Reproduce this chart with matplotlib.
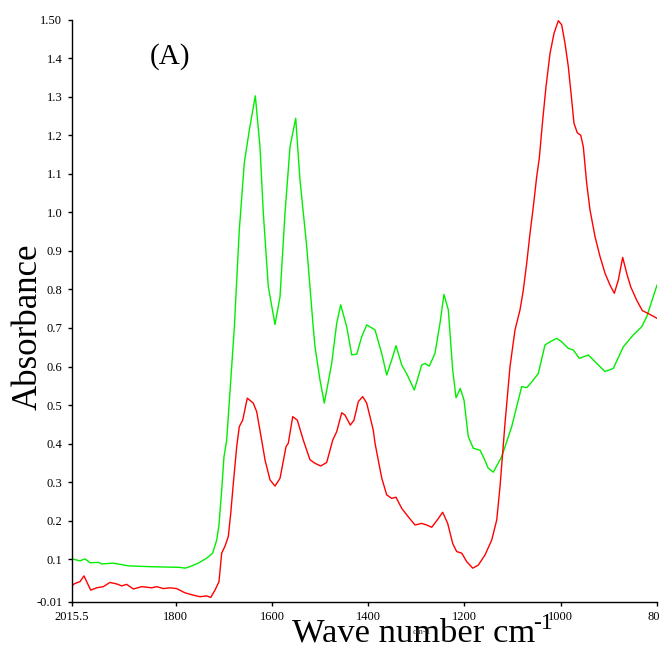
import matplotlib
matplotlib.use("Agg")
import matplotlib.pyplot as plt

plt.rcParams["font.family"] = ["Liberation Serif", "DejaVu Serif"]

# Spectrum 1 (green)
green_wn = [2015.5, 1998.9, 1988.5, 1978.1, 1960.9, 1953.8, 1929.7, 1898.5, 1857.0, 1791.1,
            1780.7, 1770.3, 1753.1, 1735.6, 1723.2, 1714.8, 1710.1, 1704.5, 1699.7, 1694.1,
            1678.3, 1667.9, 1657.5, 1647.1, 1634.6, 1624.9, 1618.0, 1607.6, 1593.7, 1583.3,
            1572.9, 1562.5, 1550.7, 1541.8, 1527.8, 1514.1, 1510.6, 1500.2, 1491.3, 1475.9,
            1465.5, 1457.2, 1444.7, 1434.3, 1423.9, 1413.6, 1403.2, 1385.9, 1372.0, 1361.6,
            1351.2, 1342.3, 1330.4, 1318.8, 1304.3, 1288.9, 1282.0, 1273.1, 1261.3, 1250.9,
            1242.6, 1233.6, 1224.5, 1217.6, 1208.7, 1201.0, 1192.1, 1181.7, 1167.7, 1160.9,
            1150.5, 1140.1, 1122.7, 1101.9, 1091.5, 1081.1, 1070.7, 1057.0, 1046.6, 1032.7,
            1022.3, 1008.4, 998.0, 984.3, 973.9, 961.4, 942.7, 925.3, 908.0, 890.8,
            870.0, 849.2, 831.8, 821.4, 800.0]
green_abs = [0.101, 0.096, 0.101, 0.091, 0.092, 0.088, 0.090, 0.083, 0.081, 0.079,
             0.077, 0.081, 0.090, 0.103, 0.116, 0.150, 0.189, 0.280, 0.366, 0.409,
             0.699, 0.954, 1.128, 1.213, 1.302, 1.170, 0.998, 0.807, 0.709, 0.781,
             0.998, 1.170, 1.244, 1.084, 0.911, 0.699, 0.651, 0.565, 0.505, 0.608,
             0.712, 0.760, 0.703, 0.630, 0.632, 0.677, 0.708, 0.695, 0.634, 0.578,
             0.617, 0.654, 0.604, 0.578, 0.539, 0.604, 0.608, 0.601, 0.634, 0.712,
             0.787, 0.747, 0.591, 0.519, 0.543, 0.513, 0.418, 0.388, 0.383, 0.366,
             0.336, 0.326, 0.366, 0.444, 0.496, 0.548, 0.545, 0.565, 0.582, 0.656,
             0.664, 0.673, 0.664, 0.647, 0.643, 0.621, 0.630, 0.608, 0.587, 0.595,
             0.651, 0.682, 0.703, 0.729, 0.811]

# Spectrum 2 (red)
red_wn = [2015.5, 2011.3, 2005.7, 1998.9, 1990.6, 1985.0, 1976.6, 1964.2, 1950.5, 1936.5,
          1922.6, 1912.2, 1901.8, 1888.1, 1870.7, 1849.9, 1839.5, 1825.8, 1811.9, 1798.0,
          1780.7, 1763.5, 1749.5, 1735.6, 1727.3, 1718.4, 1710.1, 1704.5, 1697.6, 1690.7,
          1685.7, 1680.3, 1673.3, 1667.9, 1660.8, 1651.3, 1638.8, 1631.8, 1621.4, 1614.5,
          1604.1, 1593.7, 1583.3, 1570.8, 1566.1, 1556.9, 1547.4, 1534.9, 1521.0, 1510.6,
          1498.8, 1486.3, 1473.8, 1465.5, 1455.1, 1448.3, 1437.2, 1429.6, 1420.6, 1411.5,
          1403.2, 1389.5, 1385.9, 1372.0, 1361.6, 1351.2, 1342.3, 1330.4, 1316.7, 1302.8,
          1288.9, 1278.5, 1268.1, 1256.5, 1245.3, 1234.9, 1224.5, 1216.2, 1205.8, 1195.4,
          1182.9, 1171.3, 1157.4, 1143.4, 1133.0, 1126.2, 1115.8, 1105.4, 1095.0, 1084.6,
          1077.8, 1070.7, 1063.9, 1057.0, 1050.0, 1044.6, 1037.5, 1030.6, 1022.3, 1014.0,
          1005.0, 998.0, 991.1, 984.3, 977.2, 972.5, 965.6, 958.5, 953.1, 946.1,
          939.2, 928.8, 918.4, 908.0, 897.6, 888.7, 880.4, 871.3, 863.0, 854.7,
          842.2, 830.5, 814.5, 800.0]
red_abs = [0.031, 0.036, 0.039, 0.042, 0.057, 0.042, 0.020, 0.026, 0.029, 0.040,
           0.036, 0.031, 0.035, 0.023, 0.029, 0.026, 0.029, 0.024, 0.026, 0.024,
           0.013, 0.007, 0.003, 0.005, 0.001, 0.020, 0.042, 0.116, 0.134, 0.159,
           0.219, 0.297, 0.392, 0.444, 0.461, 0.518, 0.505, 0.483, 0.409, 0.358,
           0.306, 0.290, 0.310, 0.392, 0.401, 0.470, 0.461, 0.409, 0.358, 0.349,
           0.342, 0.351, 0.409, 0.431, 0.480, 0.474, 0.448, 0.461, 0.509, 0.522,
           0.505, 0.435, 0.401, 0.311, 0.267, 0.258, 0.261, 0.232, 0.210, 0.189,
           0.193, 0.189, 0.183, 0.202, 0.222, 0.193, 0.141, 0.120, 0.116, 0.094,
           0.077, 0.085, 0.111, 0.150, 0.202, 0.288, 0.453, 0.600, 0.695, 0.747,
           0.798, 0.868, 0.945, 1.014, 1.092, 1.140, 1.239, 1.326, 1.412, 1.464,
           1.497, 1.486, 1.438, 1.378, 1.291, 1.231, 1.206, 1.200, 1.170, 1.075,
           1.006, 0.937, 0.885, 0.842, 0.811, 0.790, 0.824, 0.883, 0.842, 0.807,
           0.772, 0.745, 0.735, 0.725]

x_ticks = [2015.5, 1800, 1600, 1400, 1200, 1000, 800]
x_tick_labels = ["2015.5", "1800", "1600", "1400", "1200", "1000", "800"]
y_ticks = [-0.01, 0.1, 0.2, 0.3, 0.4, 0.5, 0.6, 0.7, 0.8, 0.9, 1.0, 1.1, 1.2, 1.3, 1.4, 1.5]
y_tick_labels = ["-0.01", "0.1", "0.2", "0.3", "0.4", "0.5", "0.6", "0.7", "0.8",
                 "0.9", "1.0", "1.1", "1.2", "1.3", "1.4", "1.50"]

fig = plt.figure(figsize=(6.6, 6.5), dpi=100)
ax = fig.add_axes([72 / 660, 1 - 601.7 / 650, 585 / 660, 582.2 / 650])

ax.plot(green_wn, green_abs, color="#00ee00", lw=1.0)
ax.plot(red_wn, red_abs, color="#ff0000", lw=1.0)

ax.set_xlim(2015.5, 800)
ax.set_ylim(-0.01, 1.5)
ax.set_xticks(x_ticks)
ax.set_xticklabels(x_tick_labels)
ax.set_yticks(y_ticks)
ax.set_yticklabels(y_tick_labels)
ax.tick_params(axis="both", direction="out", length=3, width=1, labelsize=9,
               colors="black", pad=4)
ax.spines["top"].set_visible(False)
ax.spines["right"].set_visible(False)
for side in ["left", "bottom"]:
    ax.spines[side].set_linewidth(1.0)

fig.text(28 / 660, 1 - 327 / 650, "Absorbance", rotation=90, fontsize=25,
         ha="center", va="center")
# x label, with the superscript as its own text
fig.text(292 / 660, 1 - 642 / 650, "Wave number cm", fontsize=24.8,
         ha="left", va="baseline")
fig.text(533 / 660, 1 - 629 / 650, "-1", fontsize=17, ha="left", va="baseline")
fig.text(422 / 660, 1 - 634 / 650, "cm-1", fontsize=6.5, ha="center", va="baseline",
         color="#333333")
fig.text(170 / 660, 1 - 57 / 650, "(A)", fontsize=21, ha="center", va="center")

fig.savefig("out.png", dpi=100)
